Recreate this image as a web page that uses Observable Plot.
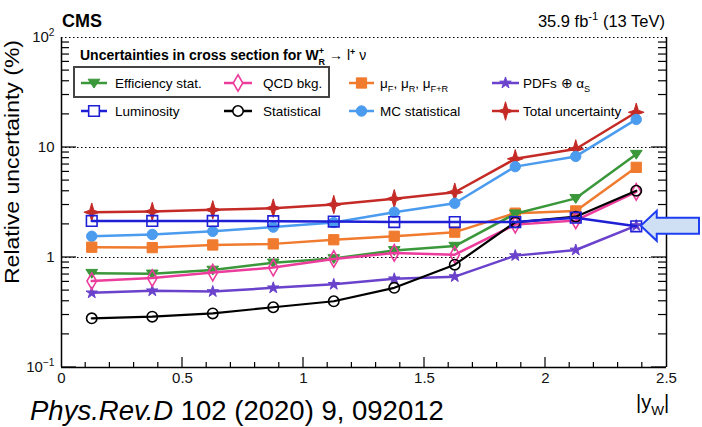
<!DOCTYPE html>
<html><head><meta charset="utf-8">
<script src="https://cdn.jsdelivr.net/npm/d3@7"></script>
<script src="https://cdn.jsdelivr.net/npm/@observablehq/plot@0.6"></script>
<style>body{margin:0;background:#fff}svg{display:block}</style>
</head><body><div id="chart"></div>
<script>
// ---- data ----
const absY = [0.125, 0.375, 0.625, 0.875, 1.125, 1.375, 1.625, 1.875, 2.125, 2.375];
const efficiencyStat = [0.72, 0.71, 0.77, 0.895, 0.98, 1.16, 1.27, 2.5, 3.45, 8.7];
const qcdBkg = [0.61, 0.65, 0.73, 0.81, 0.97, 1.10, 1.06, 1.99, 2.17, 3.95];
const muScales = [1.24, 1.23, 1.30, 1.33, 1.45, 1.56, 1.70, 2.53, 2.65, 6.6];
const pdfsAlphaS = [0.477, 0.498, 0.49, 0.53, 0.57, 0.64, 0.67, 1.04, 1.17, 1.95];
const luminosity = [2.15, 2.15, 2.15, 2.14, 2.12, 2.1, 2.1, 2.1, 2.3, 1.92];
const statistical = [0.28, 0.29, 0.31, 0.353, 0.40, 0.53, 0.86, 2.09, 2.35, 4.05];
const mcStatistical = [1.56, 1.62, 1.73, 1.89, 2.08, 2.58, 3.11, 6.7, 8.3, 18.0];
const totalUnc = [2.58, 2.62, 2.71, 2.81, 3.03, 3.42, 3.92, 7.89, 9.7, 20.9];

const seriesNames = ["Efficiency stat.", "QCD bkg.", "μ_{F}, μ_{R}, μ_{F+R}", "PDFs ⊕ α_{S}",
                     "Luminosity", "Statistical", "MC statistical", "Total uncertainty"];
const seriesValues = [efficiencyStat, qcdBkg, muScales, pdfsAlphaS, luminosity, statistical, mcStatistical, totalUnc];

const xTicks = [0, 0.5, 1, 1.5, 2, 2.5];
const xTickLabels = ["0", "0.5", "1", "1.5", "2", "2.5"];
const yTicks = [0.1, 1, 10, 100];
const yTickLabels = ["10^{−1}", "1", "10", "10^{2}"];

const titleText = "Uncertainties in cross section for W";
const yLabel = "Relative uncertainty (%)";
const xLabel = "|y_{W}|";
const cmsText = "CMS";
const lumiText = "35.9 fb^{-1} (13 TeV)";
const citeItalic = "Phys.Rev.D";
const citeRest = " 102 (2020) 9, 092012";

// ---- styles ----
const triangleDown = {draw(ctx, size) { const s = Math.sqrt(size); const w = 0.72 * s, h = 0.62 * s;
  ctx.moveTo(0, h); ctx.lineTo(-w, -h * 0.75); ctx.lineTo(w, -h * 0.75); ctx.closePath(); }};
const star4 = {draw(ctx, size) { const r = Math.sqrt(size) * 0.95, s = r * 0.22;
  ctx.moveTo(0, -r); ctx.lineTo(s, -s); ctx.lineTo(r * 0.85, 0); ctx.lineTo(s, s); ctx.lineTo(0, r);
  ctx.lineTo(-s, s); ctx.lineTo(-r * 0.85, 0); ctx.lineTo(-s, -s); ctx.closePath(); }};
const styles = [
  {color: "#3a973a", symbol: triangleDown, filled: true, r: 4.6},
  {color: "#ec3c9c", symbol: d3.symbolDiamond, filled: false, r: 5},
  {color: "#f07a2e", symbol: d3.symbolSquare, filled: true, r: 5.8},
  {color: "#6a42cc", symbol: d3.symbolStar, filled: true, r: 3.6},
  {color: "#1f1fd6", symbol: d3.symbolSquare, filled: false, r: 6},
  {color: "#000000", symbol: d3.symbolCircle, filled: false, r: 5.2},
  {color: "#4b9bee", symbol: d3.symbolCircle, filled: true, r: 5.2},
  {color: "#c42a26", symbol: star4, filled: true, r: 5.5}
];
const drawOrder = [7, 6, 2, 3, 0, 1, 5, 4];

const rows = [];
seriesNames.forEach((name, s) => seriesValues[s].forEach((v, i) => rows.push({s, name, x: absY[i], y: v})));

const marks = [
  Plot.ruleY([1, 10, 100], {stroke: "#000", strokeWidth: 1.1, strokeDasharray: "1.5,2.5"}),
  Plot.ruleX([0, 2.5], {stroke: "#000", strokeWidth: 1.5}),
  Plot.ruleY([0.1], {stroke: "#000", strokeWidth: 1.5}),
  Plot.axisX({ticks: xTicks, tickSize: 0, tickPadding: 5, tickFormat: d => xTickLabels[xTicks.indexOf(d)], label: null}),
  Plot.axisY({ticks: yTicks, tickSize: 0, tickPadding: 7, tickFormat: d => yTickLabels[yTicks.indexOf(d)], label: null})
];
for (const s of drawOrder) {
  const st = styles[s];
  const data = rows.filter(d => d.s === s);
  marks.push(Plot.line(data, {x: "x", y: "y", stroke: st.color, strokeWidth: s === 5 ? 2.2 : 2.5}));
  marks.push(Plot.dot(data, {x: "x", y: "y", symbol: st.symbol, r: st.r,
    fill: st.filled ? st.color : "none", stroke: st.color, strokeWidth: st.filled ? 1 : 1.6}));
}

const chart = Plot.plot({
  width: 702, height: 427,
  marginLeft: 61, marginRight: 36, marginTop: 37, marginBottom: 60,
  x: {domain: [0, 2.5]},
  y: {type: "log", domain: [0.1, 100]},
  style: {fontFamily: "'Liberation Sans', Arial, sans-serif", fontSize: "15px", color: "#111", background: "#fff"},
  marks
});
document.getElementById("chart").appendChild(chart);

const svg = d3.select(chart);
const xs = chart.scale("x"), ys = chart.scale("y");
const X = v => xs.apply(v), Y = v => ys.apply(v);

// rich text: ^{..} superscript, _{..} subscript
function rich(sel, str, size) {
  sel.text(null);
  const re = /([\^_])\{([^}]*)\}/g;
  let last = 0, m, shift = 0;
  const add = (t, dy, fs) => { const ts = sel.append("tspan").text(t); if (dy) ts.attr("dy", dy); if (fs) ts.attr("font-size", fs); };
  while ((m = re.exec(str))) {
    if (m.index > last) { add(str.slice(last, m.index), shift ? -shift : null); shift = 0; }
    const d = m[1] === "^" ? -0.42 * size : 0.3 * size;
    add(m[2], d - shift, size * 0.68);
    shift = d; last = re.lastIndex;
  }
  if (last < str.length) add(str.slice(last), shift ? -shift : null);
}
svg.selectAll("text").each(function() {
  const t = this.textContent;
  if (/[\^_]\{/.test(t)) rich(d3.select(this), t, 15);
});

// minor/major ticks (ROOT style, inward)
const g = svg.append("g").attr("stroke", "#000").attr("stroke-width", 1.2);
const x0 = X(0), x1 = X(2.5), yb = Y(0.1);
for (const dec of [0.1, 1, 10]) for (let k = 1; k <= 9; k++) {
  const v = dec * k, major = k === 1, len = major ? 15 : 8, y = Y(v);
  g.append("line").attr("x1", x0).attr("x2", x0 + len).attr("y1", y).attr("y2", y);
  g.append("line").attr("x1", x1 - len).attr("x2", x1).attr("y1", y).attr("y2", y);
}
for (let k = 1; k < 25; k++) {
  const major = k % 5 === 0, len = major ? 10 : 5, x = X(k / 10);
  g.append("line").attr("x1", x).attr("x2", x).attr("y1", yb).attr("y2", yb - len);
}

const ff = "'Liberation Sans', Arial, sans-serif";
const ann = svg.append("g").attr("font-family", ff).attr("text-anchor", "start").attr("fill", "#000");
// headers
ann.append("text").attr("x", 62).attr("y", 27).attr("font-weight", "bold").attr("font-size", 18).text(cmsText);
rich(ann.append("text").attr("x", 665).attr("y", 27).attr("text-anchor", "end").attr("font-size", 16.5), lumiText, 16.5);

// y label
ann.append("text").attr("transform", "translate(19,162) rotate(-90)").attr("text-anchor", "middle")
  .attr("font-size", 20.5).attr("textLength", 244).attr("lengthAdjust", "spacingAndGlyphs").text(yLabel);
// x label
rich(ann.append("text").attr("x", 636).attr("y", 409).attr("font-size", 20), xLabel, 20);

// citation
const cite = ann.append("text").attr("x", 30).attr("y", 420).attr("font-size", 27.5);
cite.append("tspan").attr("font-style", "italic").text(citeItalic);
cite.append("tspan").text(citeRest);

// legend
const lg = ann.append("g");
const tt = lg.append("text").attr("x", 80).attr("y", 60).attr("font-weight", "bold").attr("font-size", 14).text(titleText);
tt.append("tspan").attr("dy", -6).attr("font-size", 9).text("+");
tt.append("tspan").attr("dx", -5.5).attr("dy", 10.5).attr("font-size", 9).text("R");
tt.append("tspan").attr("dy", -4.5).attr("font-weight", "normal").text(" → l");
tt.append("tspan").attr("dy", -5).attr("font-size", 9).text("+");
tt.append("tspan").attr("dy", 5).attr("font-weight", "normal").text(" ν");
lg.append("rect").attr("x", 74).attr("y", 67).attr("width", 255).attr("height", 30)
  .attr("fill", "none").attr("stroke", "#444").attr("stroke-width", 2);
const colLine = [[81, 107], [224, 252], [349, 374], [492, 519]];
const colText = [115, 263, 380, 523];
const rowY = [83, 111];
seriesNames.forEach((name, s) => {
  const col = s % 4, row = Math.floor(s / 4), st = styles[s];
  const y = rowY[row], [a, b] = colLine[col];
  lg.append("line").attr("x1", a).attr("x2", b).attr("y1", y).attr("y2", y).attr("stroke", st.color).attr("stroke-width", 2.5);
  lg.append("path").attr("transform", `translate(${(a + b) / 2},${y})`)
    .attr("d", d3.symbol(st.symbol, Math.PI * st.r * st.r)())
    .attr("fill", st.filled ? st.color : "#fff").attr("stroke", st.color).attr("stroke-width", st.filled ? 1 : 1.6);
  rich(lg.append("text").attr("x", colText[col]).attr("y", y + 5).attr("font-size", 13.5), name, 13.5);
});

// annotation arrow pointing at the last luminosity point
const tipX = X(absY[9]) + 5, tipY = Y(luminosity[9]);
const headL = 16, headH = 15, shaftH = 8, endX = 699;
const p = d3.path();
p.moveTo(tipX, tipY); p.lineTo(tipX + headL, tipY - headH); p.lineTo(tipX + headL, tipY - shaftH);
p.lineTo(endX, tipY - shaftH); p.lineTo(endX, tipY + shaftH); p.lineTo(tipX + headL, tipY + shaftH);
p.lineTo(tipX + headL, tipY + headH); p.closePath();
svg.append("path").attr("d", p.toString()).attr("fill", "#cfe0f4").attr("stroke", "#1e3ef2").attr("stroke-width", 2).attr("stroke-linejoin", "miter");
</script></body></html>
